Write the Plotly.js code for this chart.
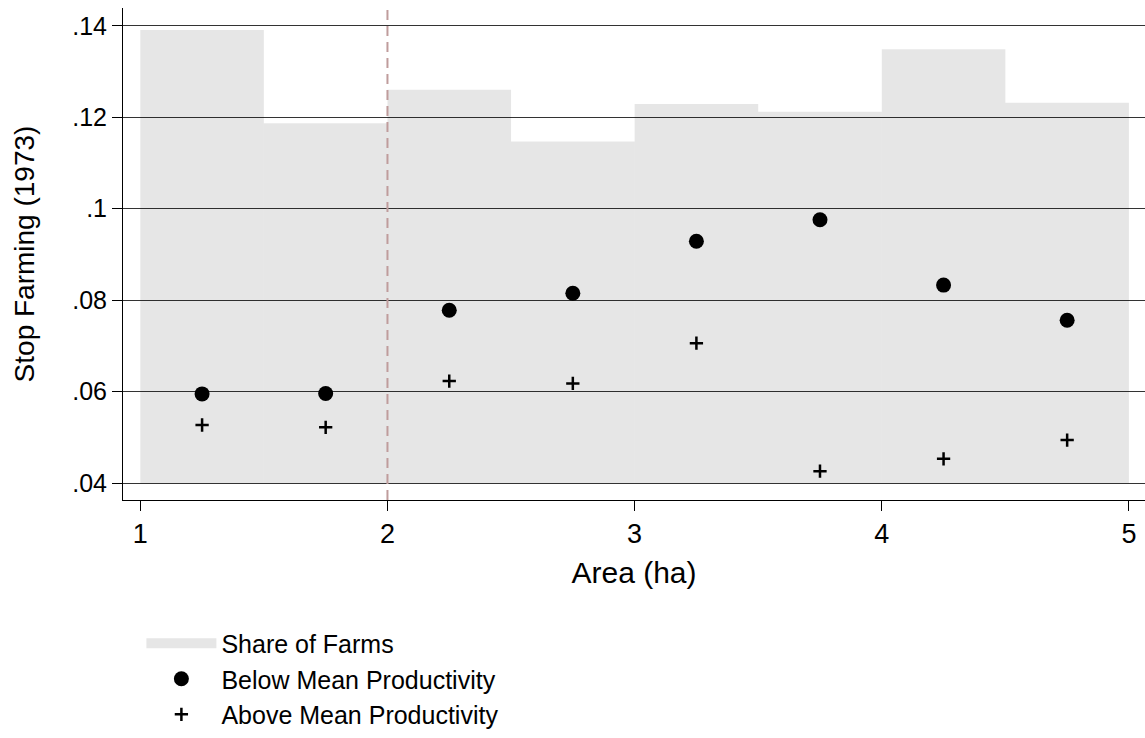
<!DOCTYPE html>
<html>
<head>
<meta charset="utf-8">
<script src="https://cdn.plot.ly/plotly-3.0.1.min.js"></script>
<style>html,body{margin:0;padding:0;background:#fff;}</style>
</head>
<body>
<div id="chart" style="width:1145px;height:738px;"></div>
<script>
// Bin centres (Area, ha)
const binCenters = [1.25, 1.75, 2.25, 2.75, 3.25, 3.75, 4.25, 4.75];
// Share of farms histogram, bar tops read on the Stop Farming scale
const shareTops = [0.1391, 0.1187, 0.1260, 0.1147, 0.1229, 0.1212, 0.1349, 0.1232];
const shareBase = 0.04;
// Stop farming rate, below mean productivity
const belowMean = [0.0595, 0.0596, 0.0778, 0.0815, 0.0929, 0.0976, 0.0833, 0.0756];
// Stop farming rate, above mean productivity
const aboveMean = [0.0527, 0.0522, 0.0623, 0.0618, 0.0706, 0.0426, 0.0453, 0.0494];
// Axis ticks
const xTickVals = [1, 2, 3, 4, 5];
const yTickVals = [0.04, 0.06, 0.08, 0.10, 0.12, 0.14];
const yTickText = ['.04', '.06', '.08', '.1', '.12', '.14'];
const cutoff = 2;

const FONT = 'Liberation Sans, Arial, Helvetica, sans-serif';
const BAR_FILL = 'rgba(0,0,0,0.098)';

const traces = [
  {
    type: 'bar',
    name: 'Share of Farms',
    x: binCenters,
    y: shareTops.map(v => v - shareBase),
    base: shareBase,
    width: 0.5,
    marker: {color: BAR_FILL, line: {width: 0}},
    showlegend: false,
    hoverinfo: 'skip'
  },
  {
    // legend key for the histogram (wide grey swatch as in the original)
    type: 'scatter',
    mode: 'lines',
    name: 'Share of Farms',
    x: [null],
    y: [null],
    line: {color: '#e6e6e6', width: 27},
    hoverinfo: 'skip'
  },
  {
    type: 'scatter',
    mode: 'markers',
    name: 'Below Mean Productivity',
    x: binCenters,
    y: belowMean,
    marker: {symbol: 'circle', size: 15, color: '#000'}
  },
  {
    type: 'scatter',
    mode: 'markers',
    name: 'Above Mean Productivity',
    x: binCenters,
    y: aboveMean,
    marker: {symbol: 'cross-thin', size: 9.5, color: '#000', line: {width: 2.5, color: '#000'}}
  }
];

const layout = {
  width: 1145,
  height: 738,
  margin: {l: 123, r: 0, t: 8, b: 236},
  paper_bgcolor: '#fff',
  plot_bgcolor: '#fff',
  font: {family: FONT, color: '#000', size: 25},
  showlegend: true,
  barmode: 'overlay',
  xaxis: {
    range: [0.93, 5.065],
    tickvals: xTickVals,
    ticktext: xTickVals.map(String),
    ticks: 'outside',
    ticklen: 10,
    tickwidth: 1,
    tickcolor: '#000',
    showline: true,
    linecolor: '#000',
    linewidth: 1,
    showgrid: false,
    zeroline: false,
    tickfont: {size: 27, family: FONT},
    title: {text: 'Area (ha)', font: {size: 30, family: FONT}, standoff: 13}
  },
  yaxis: {
    range: [0.0363, 0.1439],
    tickvals: yTickVals,
    ticktext: yTickText,
    ticks: 'outside',
    ticklen: 10,
    tickwidth: 1,
    tickcolor: '#000',
    showline: true,
    linecolor: '#000',
    linewidth: 1,
    showgrid: true,
    gridcolor: '#333',
    gridwidth: 1,
    zeroline: false,
    tickfont: {size: 25, family: FONT},
    title: {text: 'Stop Farming (1973)', font: {size: 28, family: FONT}, standoff: 29}
  },
  shapes: [
    {
      type: 'line', xref: 'x', yref: 'paper',
      x0: cutoff, x1: cutoff, y0: 0, y1: 1,
      line: {color: '#bf9c9c', width: 2, dash: '10px,6px'},
      layer: 'above'
    }
  ],
  legend: {
    orientation: 'v',
    x: 0.018, xanchor: 'left',
    y: -0.245, yanchor: 'top',
    bgcolor: 'rgba(0,0,0,0)',
    font: {size: 25, family: FONT},
    itemwidth: 70,
    traceorder: 'normal',
    tracegroupgap: 0
  }
};

Plotly.newPlot('chart', traces, layout, {displayModeBar: false, staticPlot: true});
</script>
</body>
</html>
